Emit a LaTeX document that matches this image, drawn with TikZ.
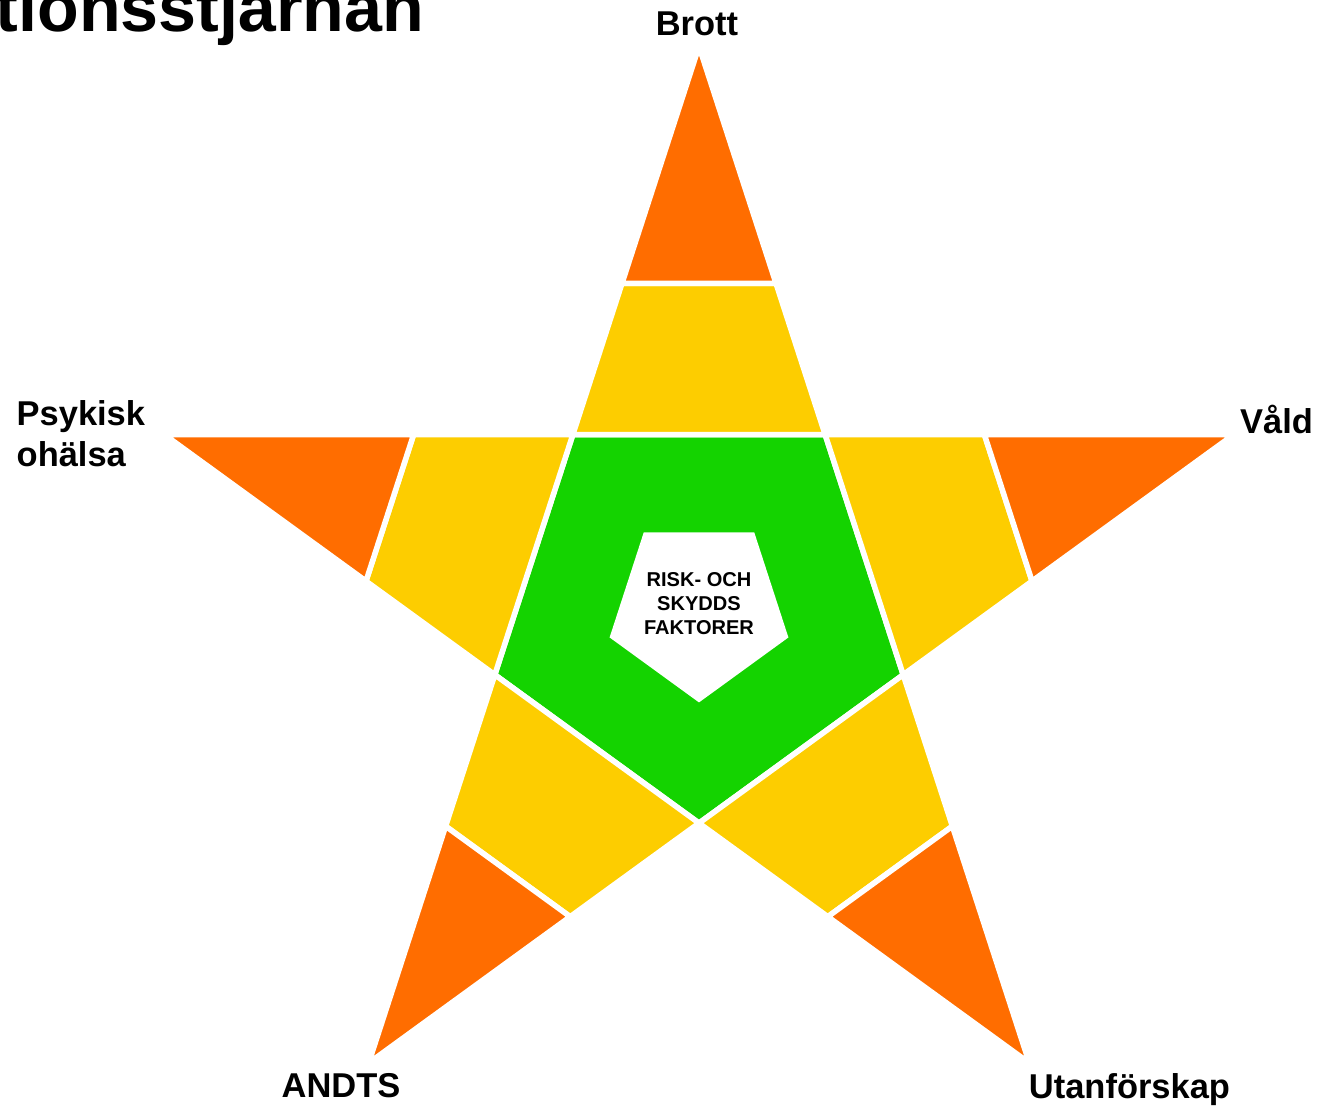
\documentclass[tikz,border=0pt]{standalone}
\usepackage{fontspec}
\setmainfont{Liberation Sans}
\usetikzlibrary{calc}
\definecolor{stjorange}{HTML}{FF6D00}
\definecolor{stjgul}{HTML}{FDCD00}
\definecolor{stjgron}{HTML}{14D300}
\tikzset{
  falt/.style={draw=white, line width=0.055cm},
  etikett/.style={font=\fontsize{9.8pt}{11.4pt}\selectfont\bfseries, inner sep=0pt},
}

\begin{document}
\begin{tikzpicture}[x=0.01cm, y=0.01cm]
			\useasboundingbox (-699,-499.6) rectangle (623,608.4);
			% Spetsar och inre hörn
			\foreach \i/\w in {0/90,1/162,2/234,3/306,4/18} {
				\coordinate (s\i) at (\w:562);
				\coordinate (k\i) at ({\w+36}:214.7);
			}
			% Mitten
			\draw[falt, fill=stjgron] (k0) -- (k1) -- (k2) -- (k3) -- (k4) -- cycle;
			\fill[white] (126:94) -- (198:94) -- (270:94) -- (342:94) -- (54:94) -- cycle;
			% Armar
			\foreach \i/\j in {0/4,1/0,2/1,3/2,4/3} {
				\draw[falt, fill=stjgul] (k\j) -- (k\i) -- ($(k\i)!0.39!(s\i)$)
					-- ($(k\j)!0.39!(s\i)$) -- cycle;
				\draw[falt, fill=stjorange] ($(k\j)!0.39!(s\i)$) -- ($(k\i)!0.39!(s\i)$)
					-- (s\i) -- cycle;
			}
			% Texter
			\node[inner sep=0pt, anchor=base west,
			font=\fontsize{19.4pt}{22pt}\selectfont\bfseries] (rubrik) at (-704,577.4) {tionsstjärnan};
			\node[etikett, anchor=base] (brott) at (-2,573.4) {Brott};
			\node[etikett, anchor=base] (vald) at (577.5,175.4) {Våld};
			\node[etikett, anchor=base west, align=left] (psyk) at (-683,142.4) {Psykisk\\ohälsa};
			\node[etikett, anchor=base] (andts) at (-358,-488.6) {ANDTS};
			\node[etikett, anchor=base] (utanf) at (430.5,-489.6) {Utanförskap};
			\node[inner sep=0pt, align=center,
			font=\fontsize{5.7pt}{6.8pt}\selectfont\bfseries] (faktorer) at (0,4.9) {RISK- OCH\\SKYDDS\\FAKTORER};
		\end{tikzpicture}
\end{document}
